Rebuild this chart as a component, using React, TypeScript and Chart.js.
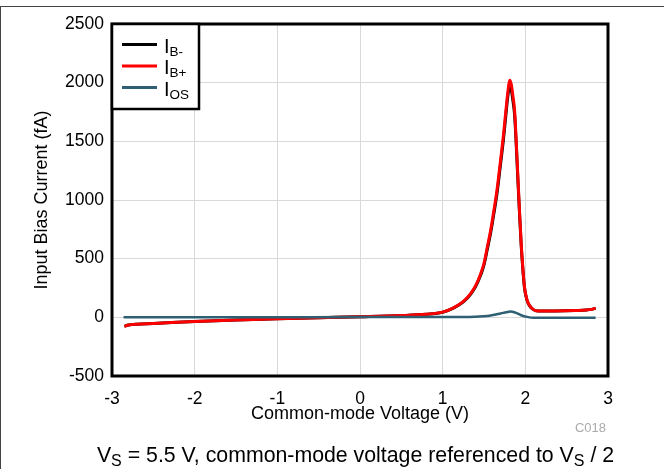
import React, { useEffect, useRef } from 'react';
import { Chart, registerables } from 'chart.js';

Chart.register(...registerables);

const FONT = '"Liberation Sans", Arial, Helvetica, sans-serif';

// Common-mode voltage (V)
const vcmB = [-2.85, -2.8, -2.7, -2.5, -2.0, -1.5, -1.0, -0.5, 0, 0.5, 0.8, 1.0, 1.13, 1.25, 1.34, 1.4, 1.46, 1.5, 1.54, 1.58, 1.62, 1.66, 1.7, 1.735, 1.765, 1.79, 1.81, 1.83, 1.85, 1.87, 1.89, 1.91, 1.93, 1.95, 1.97, 1.99, 2.02, 2.05, 2.09, 2.13, 2.2, 2.36, 2.6, 2.8, 2.85];
// I_B+ (fA)
const ibPlus = [-77, -66, -58, -52, -35, -22, -12, -3, 5, 15, 26, 44, 80, 135, 205, 272, 372, 460, 599, 740, 912, 1100, 1338, 1550, 1764, 1930, 2020, 1985, 1885, 1764, 1500, 1195, 900, 628, 420, 258, 150, 102, 70, 56, 54, 54, 58, 68, 78];
// I_B- (fA)
const ibMinus = [-77, -66, -58, -52, -35, -22, -12, -3, 5, 15, 26, 44, 78, 131, 199, 264, 360, 446, 580, 718, 886, 1070, 1305, 1515, 1728, 1895, 1972, 1940, 1845, 1728, 1470, 1170, 880, 612, 408, 250, 146, 100, 70, 56, 54, 54, 58, 68, 78];
// I_OS
const vcmOS = [-2.86, -2.5, -2.0, -1.0, 0, 0.5, 1.0, 1.3, 1.4, 1.54, 1.7, 1.77, 1.82, 1.88, 1.95, 2.02, 2.1, 2.3, 2.6, 2.85];
const ios = [0, 0, 0, 1, 2, 2, 2, 3, 6, 12, 33, 44, 50, 40, 18, 4, -4, -4, -3, -3];

const xTicks = [-3, -2, -1, 0, 1, 2, 3];
const yTicks = [-500, 0, 500, 1000, 1500, 2000, 2500];

const legendNames = [
  { main: 'I', sub: 'B-', color: '#000000' },
  { main: 'I', sub: 'B+', color: '#FF0000' },
  { main: 'I', sub: 'OS', color: '#2E5F73' },
];

function drawParts(ctx: CanvasRenderingContext2D, parts: { t: string; sub?: boolean }[], x: number, y: number, size: number, subSize: number, subDrop: number, align: 'left' | 'center') {
  const mainFont = `${size}px ${FONT}`;
  const subFont = `${subSize}px ${FONT}`;
  let total = 0;
  for (const p of parts) {
    ctx.font = p.sub ? subFont : mainFont;
    total += ctx.measureText(p.t).width;
  }
  let cx = align === 'center' ? x - total / 2 : x;
  ctx.textAlign = 'left';
  ctx.textBaseline = 'alphabetic';
  for (const p of parts) {
    ctx.font = p.sub ? subFont : mainFont;
    ctx.fillText(p.t, cx, p.sub ? y + subDrop : y);
    cx += ctx.measureText(p.t).width;
  }
}

const decorPlugin = {
  id: 'decor',
  beforeDraw(chart: any) {
    const ctx = chart.ctx as CanvasRenderingContext2D;
    ctx.save();
    ctx.fillStyle = '#ffffff';
    ctx.fillRect(0, 0, chart.width, chart.height);
    ctx.restore();
  },
  afterDraw(chart: any) {
    const ctx = chart.ctx as CanvasRenderingContext2D;
    const a = chart.chartArea;
    ctx.save();
    // outer frame
    ctx.strokeStyle = '#444444';
    ctx.lineWidth = 1;
    ctx.beginPath();
    ctx.moveTo(0, 6.5);
    ctx.lineTo(chart.width, 6.5);
    ctx.moveTo(0.5, 6.5);
    ctx.lineTo(0.5, chart.height);
    ctx.stroke();

    // plot border
    ctx.strokeStyle = '#000000';
    ctx.lineWidth = 3;
    ctx.strokeRect(a.left, a.top, a.right - a.left, a.bottom - a.top);

    // legend
    const lx = a.left, ly = a.top, lw = 87, lh = 85;
    ctx.fillStyle = '#ffffff';
    ctx.fillRect(lx, ly, lw, lh);
    ctx.lineWidth = 2.5;
    ctx.strokeStyle = '#000000';
    ctx.strokeRect(lx, ly, lw, lh);
    legendNames.forEach((n, i) => {
      const yy = ly + 20.5 + i * 21.5;
      ctx.strokeStyle = n.color;
      ctx.lineWidth = 3;
      ctx.beginPath();
      ctx.moveTo(lx + 10, yy);
      ctx.lineTo(lx + 45, yy);
      ctx.stroke();
      ctx.fillStyle = '#000000';
      drawParts(ctx, [{ t: n.main }, { t: n.sub, sub: true }], lx + 52, yy + 8, 20, 13.5, 3, 'left');
    });

    // axis titles
    ctx.fillStyle = '#000000';
    ctx.font = `18px ${FONT}`;
    ctx.textAlign = 'center';
    ctx.textBaseline = 'middle';
    ctx.fillText('Common-mode Voltage (V)', (a.left + a.right) / 2, 414);
    ctx.save();
    ctx.translate(42, (a.top + a.bottom) / 2);
    ctx.rotate(-Math.PI / 2);
    ctx.fillText('Input Bias Current (fA)', 0, 0);
    ctx.restore();

    ctx.fillStyle = '#AAAAAA';
    ctx.font = `13px ${FONT}`;
    ctx.textAlign = 'right';
    ctx.fillText('C018', 606, 428);

    ctx.fillStyle = '#000000';
    drawParts(ctx, [
      { t: 'V' }, { t: 'S', sub: true },
      { t: ' = 5.5 V, common-mode voltage referenced to V' }, { t: 'S', sub: true },
      { t: ' / 2' },
    ], 355.5, 462, 21.3, 16, 4, 'center');
    ctx.restore();
  },
};

export default function App() {
  const ref = useRef<HTMLCanvasElement>(null);
  useEffect(() => {
    document.body.style.margin = '0';
    const toPts = (xs: number[], ys: number[]) => xs.map((x, i) => ({ x, y: ys[i] }));
    const chart = new Chart(ref.current as HTMLCanvasElement, {
      type: 'line',
      data: {
        datasets: [
          { label: 'IB-', data: toPts(vcmB, ibMinus), borderColor: '#000000', borderWidth: 3, pointRadius: 0, cubicInterpolationMode: 'monotone', order: 3 },
          { label: 'IB+', data: toPts(vcmB, ibPlus), borderColor: '#FF0000', borderWidth: 3, pointRadius: 0, cubicInterpolationMode: 'monotone', order: 2 },
          { label: 'IOS', data: toPts(vcmOS, ios), borderColor: '#2E5F73', borderWidth: 2.5, pointRadius: 0, cubicInterpolationMode: 'monotone', order: 1 },
        ],
      } as any,
      options: {
        responsive: false,
        devicePixelRatio: 1,
        animation: false,
        layout: { padding: { left: 0, top: 24, right: 56, bottom: 0 } },
        plugins: { legend: { display: false }, tooltip: { enabled: false } },
        scales: {
          x: {
            type: 'linear',
            min: -3,
            max: 3,
            afterBuildTicks: (s: any) => { s.ticks = xTicks.map((v) => ({ value: v })); },
            afterFit: (s: any) => { s.height = 93; },
            grid: { color: '#D9D9D9', lineWidth: 1, drawTicks: false },
            border: { display: false },
            ticks: { color: '#000000', font: { family: FONT, size: 17.5 }, padding: 13, maxRotation: 0, callback: (v: any) => String(v) },
          },
          y: {
            type: 'linear',
            min: -500,
            max: 2500,
            afterBuildTicks: (s: any) => { s.ticks = yTicks.map((v) => ({ value: v })); },
            afterFit: (s: any) => { s.width = 112; },
            grid: { color: '#D9D9D9', lineWidth: 1, drawTicks: false },
            border: { display: false },
            ticks: { color: '#000000', font: { family: FONT, size: 17.5 }, padding: 8, callback: (v: any) => String(v) },
          },
        },
      },
      plugins: [decorPlugin],
    });
    return () => chart.destroy();
  }, []);
  return (
    <div style={{ width: 664, height: 469, background: '#ffffff' }}>
      <canvas ref={ref} width={664} height={469} style={{ display: 'block' }} />
    </div>
  );
}
